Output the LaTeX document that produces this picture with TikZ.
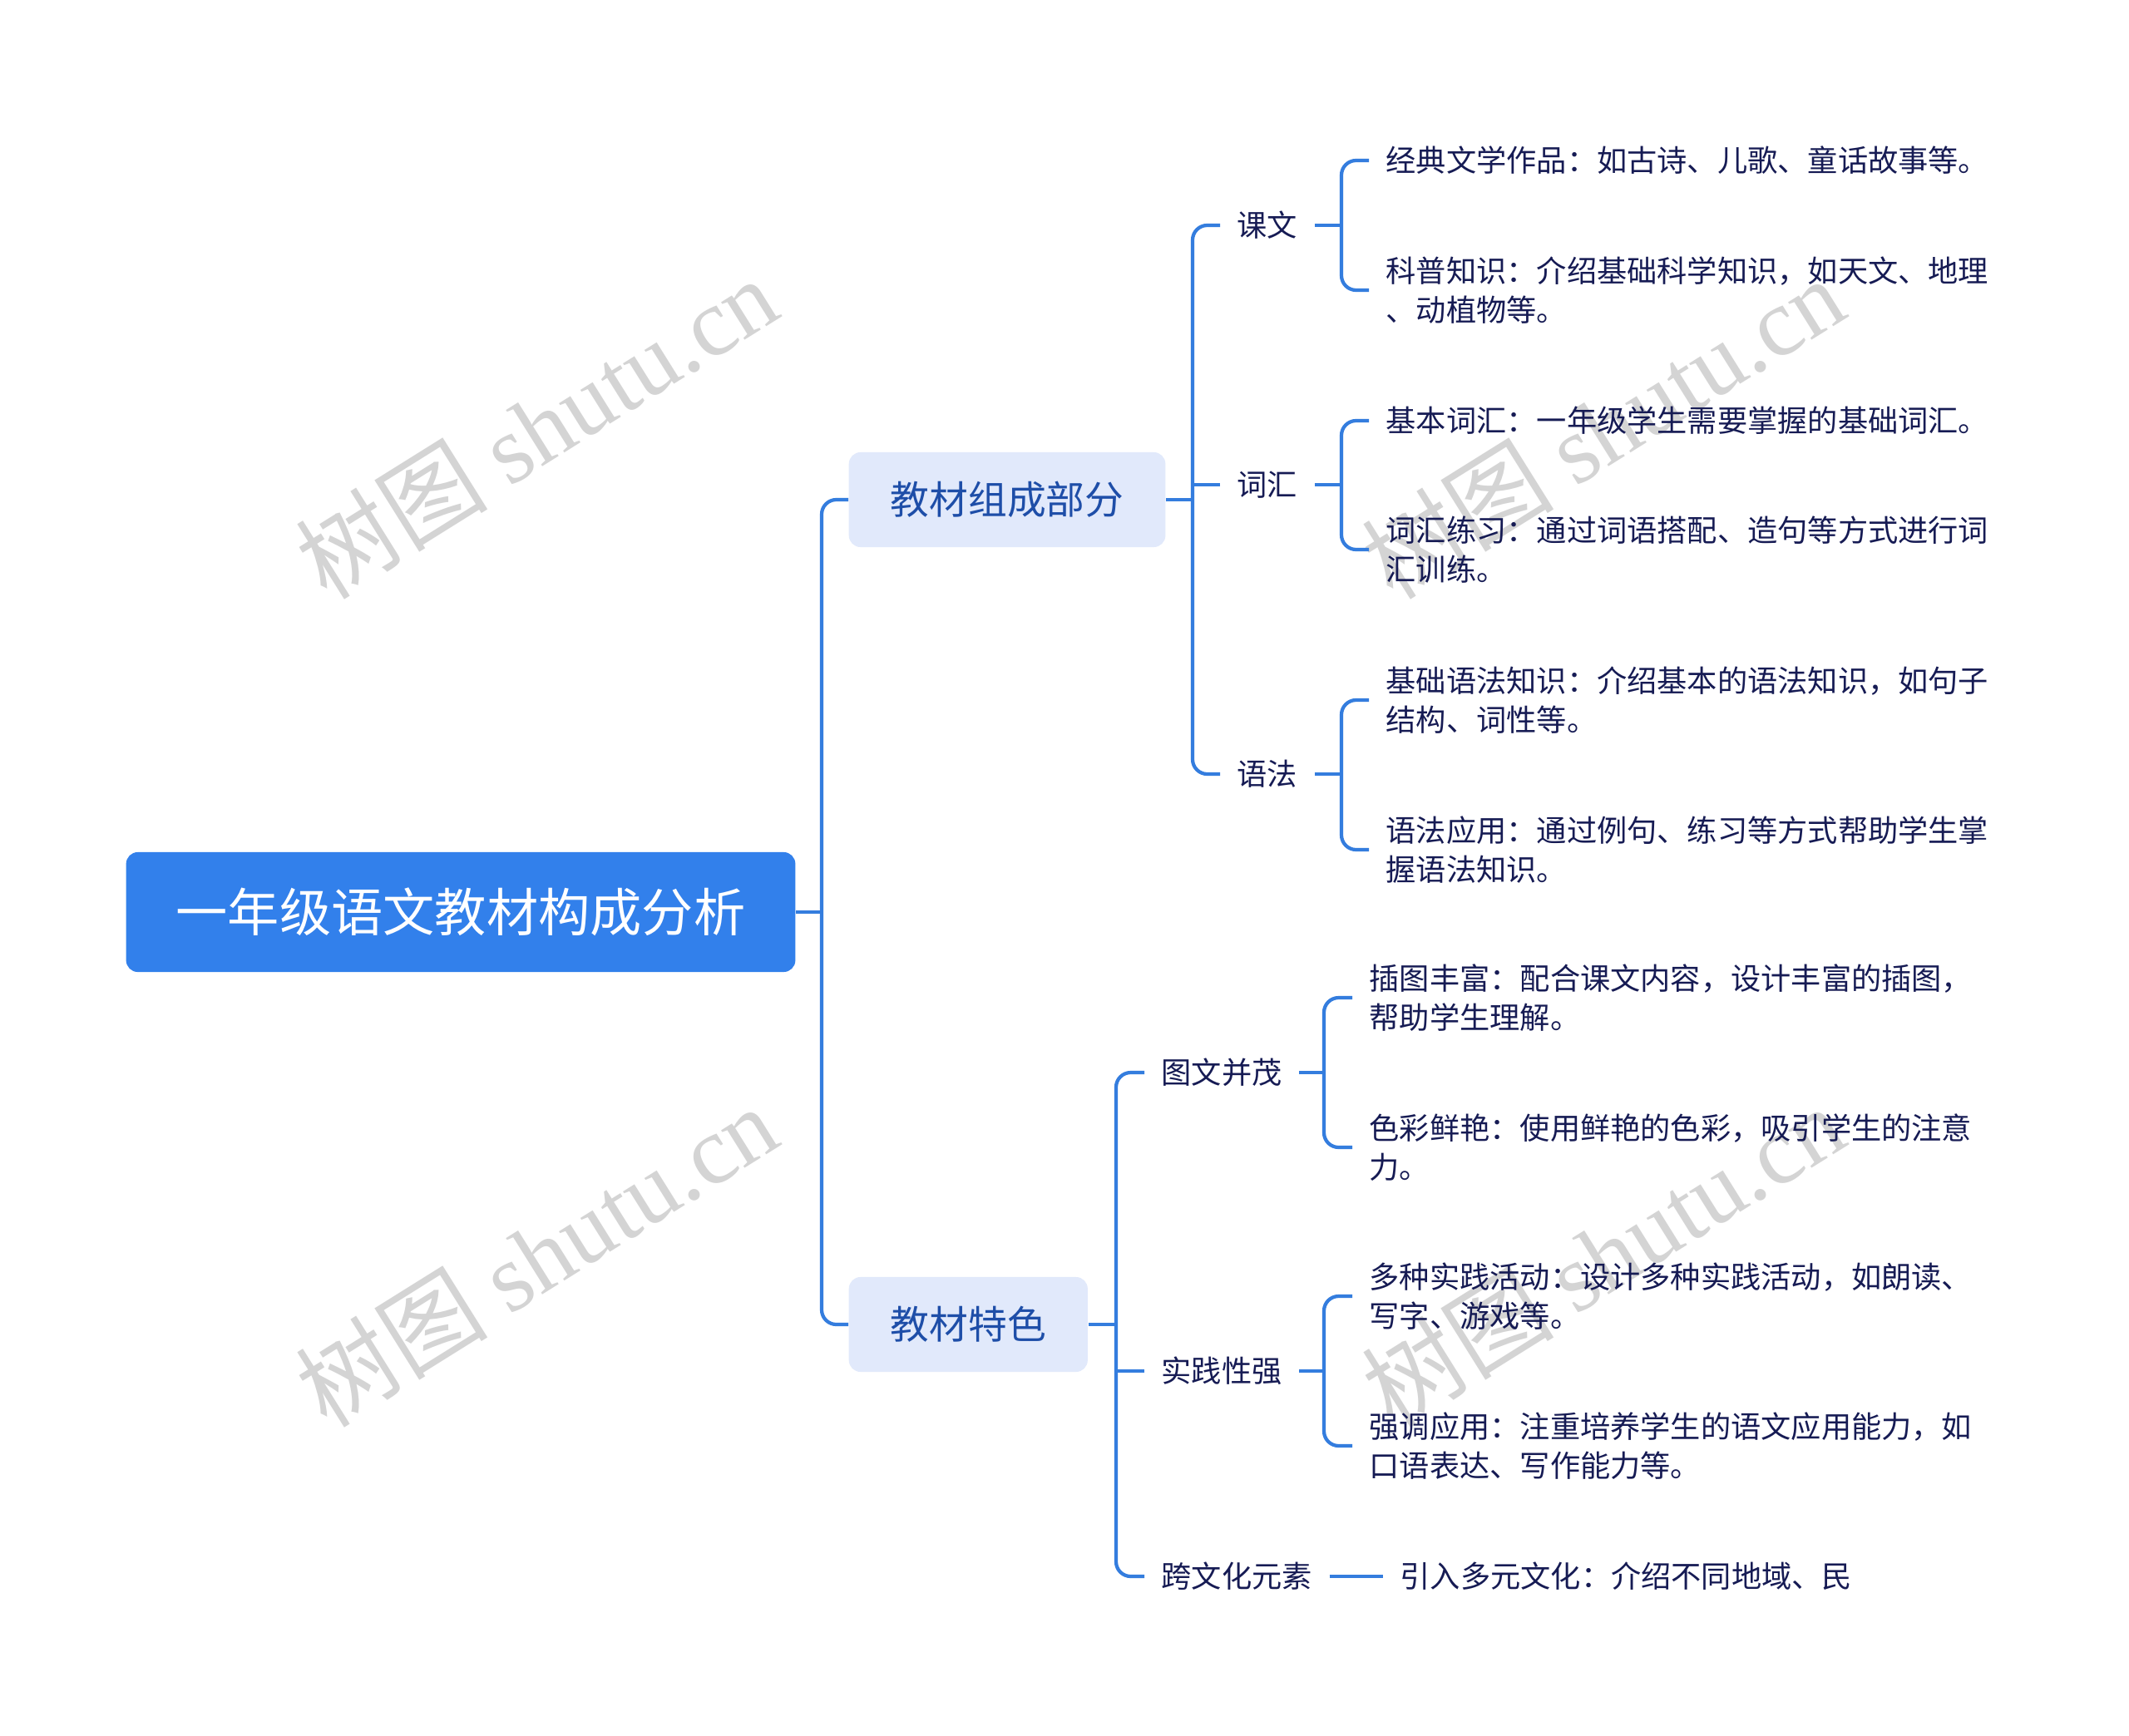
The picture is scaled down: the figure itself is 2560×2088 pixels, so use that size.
\documentclass[tikz,border=0pt]{standalone}
\usepackage{fontspec}
\setmainfont{Noto Sans CJK SC}
\newfontfamily\wmlatin{Liberation Serif}
\usepackage{xcolor}
\usepackage{tikz}
\usetikzlibrary{positioning,calc}
\definecolor{mapblue}{RGB}{50,128,235}
\definecolor{maplink}{RGB}{52,125,222}
\definecolor{maplight}{RGB}{225,233,251}
\definecolor{mapdeep}{RGB}{30,78,168}
\definecolor{mapink}{RGB}{22,27,84}
\tikzset{
  rootbox/.style={rounded corners=4pt, fill=mapblue, text=white, inner xsep=0.6cm, minimum height=1.44cm, font=\fontsize{17.7}{20}\selectfont},
  topicbox/.style={rounded corners=4pt, fill=maplight, text=mapdeep, inner xsep=0.5cm, minimum height=1.14cm, font=\fontsize{13.3}{16}\selectfont},
  subtxt/.style={text=mapink, inner xsep=0.2cm, inner ysep=2pt, font=\fontsize{10.3}{13.4}\selectfont},
  leaftxt/.style={subtxt, align=left, anchor=west},
  link/.style={draw=maplink, line width=1.2pt, rounded corners=5pt},
  wmark/.style={text=black!17, rotate=32, font=\fontsize{33}{33}\selectfont},
}

\begin{document}
\begin{tikzpicture}[x=0.01cm, y=-0.01cm]
    \fill[white] (0,0) rectangle (2560,2088);
    \useasboundingbox (0,0) rectangle (2560,2088);
    % watermarks
    \foreach \i/\wx/\wy in {1/645/514, 2/645/1510, 3/1927/514, 4/1927/1510}
      \node[wmark] (wm\i) at (\wx,\wy) {树图 {\wmlatin shutu.cn}};
    % root and topics
    \node[rootbox] (root) at (554,1097) {一年级语文教材构成分析};
    \node[topicbox, anchor=west] (parts) at (1020,601) {教材组成部分};
    \node[topicbox, anchor=west] (feats) at (1020,1593) {教材特色};
    % second level
    \node[subtxt, anchor=west] (kewen) at (1467,271) {课文};
    \node[subtxt, anchor=west] (cihui) at (1467,583) {词汇};
    \node[subtxt, anchor=west] (yufa) at (1467,931) {语法};
    \node[subtxt, anchor=west] (tuwen) at (1376,1290) {图文并茂};
    \node[subtxt, anchor=west] (shijian) at (1376,1649) {实践性强};
    \node[subtxt, anchor=west] (kuawen) at (1376,1896) {跨文化元素};
    % leaves
    \node[leaftxt] (kw1) at (1646,193) {经典文学作品：如古诗、儿歌、童话故事等。};
    \node[leaftxt] (kw2) at (1646,349) {科普知识：介绍基础科学知识，如天文、地理\\、动植物等。};
    \node[leaftxt] (ch1) at (1646,506) {基本词汇：一年级学生需要掌握的基础词汇。};
    \node[leaftxt] (ch2) at (1646,661) {词汇练习：通过词语搭配、造句等方式进行词\\汇训练。};
    \node[leaftxt] (yf1) at (1646,842) {基础语法知识：介绍基本的语法知识，如句子\\结构、词性等。};
    \node[leaftxt] (yf2) at (1646,1022) {语法应用：通过例句、练习等方式帮助学生掌\\握语法知识。};
    \node[leaftxt] (tw1) at (1626,1200) {插图丰富：配合课文内容，设计丰富的插图，\\帮助学生理解。};
    \node[leaftxt] (tw2) at (1626,1380) {色彩鲜艳：使用鲜艳的色彩，吸引学生的注意\\力。};
    \node[leaftxt] (sj1) at (1626,1559) {多种实践活动：设计多种实践活动，如朗读、\\写字、游戏等。};
    \node[leaftxt] (sj2) at (1626,1739) {强调应用：注重培养学生的语文应用能力，如\\口语表达、写作能力等。};
    \node[leaftxt] (kw) at (1663,1896) {引入多元文化：介绍不同地域、民};
    % joints
    \coordinate (j0) at (988,1097);
    \coordinate (j1) at (1434,601);
    \coordinate (j2) at (1342,1593);
    \coordinate (jk) at (1613,271);
    \coordinate (jc) at (1613,583);
    \coordinate (jy) at (1613,931);
    \coordinate (jt) at (1592,1290);
    \coordinate (js) at (1592,1649);
    % connectors
    \draw[link] (root.east) -- (j0);
    \draw[link] (parts.west) -| (j0) |- (feats.west);
    \draw[link] (parts.east) -- (j1);
    \draw[link] (kewen.west) -| (j1) |- (yufa.west);
    \draw[link] (cihui.west) -- (cihui.west -| j1);
    \draw[link] (feats.east) -- (j2);
    \draw[link] (tuwen.west) -| (j2) |- (kuawen.west);
    \draw[link] (shijian.west) -- (shijian.west -| j2);
    \draw[link] (kewen.east) -- (jk);
    \draw[link] (kw1.west) -| (jk) |- (kw2.west);
    \draw[link] (cihui.east) -- (jc);
    \draw[link] (ch1.west) -| (jc) |- (ch2.west);
    \draw[link] (yufa.east) -- (jy);
    \draw[link] (yf1.west) -| (jy) |- (yf2.west);
    \draw[link] (tuwen.east) -- (jt);
    \draw[link] (tw1.west) -| (jt) |- (tw2.west);
    \draw[link] (shijian.east) -- (js);
    \draw[link] (sj1.west) -| (js) |- (sj2.west);
    \draw[link] (kuawen.east) -- (kw.west);
  \end{tikzpicture}
\end{document}
